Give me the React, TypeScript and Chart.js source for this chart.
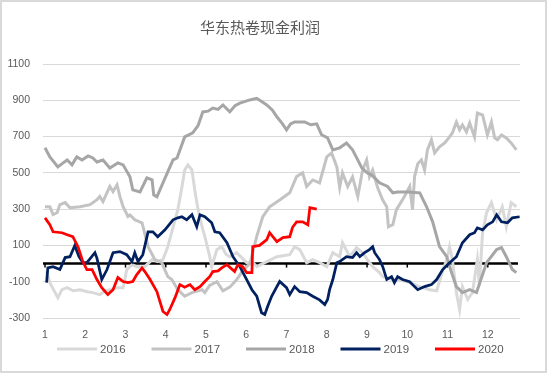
import React, { useEffect, useRef } from 'react';
import { Chart, registerables } from 'chart.js';

Chart.register(...registerables);

const TITLE = '华东热卷现金利润';
const monthTicks = [1, 2, 3, 4, 5, 6, 7, 8, 9, 10, 11, 12];
const seriesLabels = ['2016', '2017', '2018', '2019', '2020'];
const seriesColors = ['#d9d9d9', '#c3c3c3', '#a6a6a6', '#002060', '#ff0000'];
const seriesWidths = [3, 3, 3, 2.75, 2.75];

type P = [number, number];

const s2016: P[] = [
  [1.04, -43], [1.12, -105], [1.25, -160], [1.32, -188], [1.42, -144], [1.55, -133], [1.7, -150], [1.87, -144],
  [2.05, -155], [2.19, -160], [2.36, -171], [2.5, -150], [2.61, -144], [2.79, -133], [2.94, -133], [3.03, -34],
  [3.16, -6], [3.28, -17], [3.48, -17], [3.66, 22], [3.8, 10], [3.93, 22], [4.05, 93], [4.18, 200], [4.3, 297],
  [4.4, 420], [4.47, 516], [4.55, 544], [4.65, 516], [4.72, 406], [4.8, 300], [4.9, 203], [4.97, 150], [5.09, 40],
  [5.14, -17], [5.22, 40], [5.27, 77], [5.39, 93], [5.5, 50], [5.59, 38], [5.76, 60], [5.9, 30], [6.01, 5],
  [6.15, 10], [6.26, -17], [6.51, 11], [6.76, 38], [6.95, 45], [7.08, 49], [7.2, 93], [7.33, 77], [7.5, 5],
  [7.65, 22], [7.82, 5], [8.0, -17], [8.15, 60], [8.32, 38], [8.39, 115], [8.57, 38], [8.74, 88], [8.89, 60],
  [9.01, 22], [9.14, -17], [9.31, -50], [9.39, -72], [9.64, -88], [9.9, -95], [10.06, -105], [10.31, -127],
  [10.55, -144], [10.73, -150], [10.85, -60], [10.98, 22], [11.05, 93], [11.12, 22], [11.22, -160], [11.3, -253],
  [11.37, -127], [11.5, -198], [11.62, -160], [11.74, 22], [11.79, -120], [11.87, 170], [11.97, 280], [12.09, 336],
  [12.22, 241], [12.36, 313], [12.46, 203], [12.58, 336], [12.71, 313],
];

const s2017: P[] = [
  [1.0, 313], [1.12, 313], [1.2, 270], [1.3, 280], [1.37, 325], [1.5, 336], [1.62, 308], [1.87, 313], [2.12, 325],
  [2.29, 352], [2.36, 370], [2.44, 342], [2.61, 425], [2.69, 397], [2.79, 434], [2.86, 370], [2.94, 313], [3.06, 260],
  [3.11, 268], [3.23, 241], [3.41, 225], [3.56, 93], [3.73, 22], [3.9, 5], [4.05, -72], [4.15, -88], [4.3, -144],
  [4.47, -180], [4.65, -160], [4.9, -144], [4.97, -160], [5.09, -120], [5.27, -100], [5.42, -150], [5.59, -130],
  [5.76, -90], [5.91, -40], [6.09, 0], [6.26, 150], [6.41, 258], [6.58, 313], [6.83, 350], [7.08, 390], [7.25, 480],
  [7.4, 500], [7.5, 425], [7.65, 461], [7.82, 445], [8.0, 588], [8.12, 610], [8.25, 533], [8.32, 420], [8.39, 500],
  [8.52, 425], [8.64, 478], [8.77, 370], [8.89, 516], [8.99, 571], [9.06, 478], [9.14, 516], [9.26, 420], [9.39, 350],
  [9.49, 313], [9.53, 203], [9.64, 214], [9.73, 297], [9.93, 370], [10.06, 425], [10.13, 297], [10.18, 478],
  [10.26, 550], [10.35, 571], [10.43, 516], [10.5, 627], [10.6, 682], [10.68, 610], [10.8, 643], [10.93, 665],
  [11.05, 698], [11.12, 720], [11.22, 780], [11.3, 737], [11.37, 764], [11.47, 726], [11.55, 775], [11.67, 698],
  [11.74, 830], [11.87, 819], [11.99, 709], [12.09, 780], [12.17, 693], [12.24, 682], [12.34, 709], [12.46, 693],
  [12.58, 665], [12.71, 627],
];

const s2018: P[] = [
  [1.0, 638], [1.12, 588], [1.32, 533], [1.45, 555], [1.55, 571], [1.67, 544], [1.79, 588], [1.92, 571], [2.07, 593],
  [2.19, 582], [2.29, 560], [2.44, 571], [2.61, 527], [2.81, 555], [2.94, 544], [3.11, 478], [3.18, 406], [3.36, 395],
  [3.53, 472], [3.66, 461], [3.7, 379], [3.78, 368], [3.93, 445], [4.18, 571], [4.28, 582], [4.47, 698], [4.67, 720],
  [4.8, 760], [4.92, 836], [5.05, 840], [5.17, 857], [5.3, 850], [5.42, 874], [5.59, 836], [5.72, 870], [5.84, 884],
  [6.09, 902], [6.26, 911], [6.4, 890], [6.51, 874], [6.65, 845], [6.76, 809], [6.9, 770], [7.0, 737], [7.1, 770],
  [7.2, 781], [7.45, 781], [7.6, 765], [7.75, 770], [7.87, 710], [8.02, 693], [8.15, 627], [8.32, 638], [8.49, 665],
  [8.64, 627], [8.75, 580], [8.87, 527], [9.0, 500], [9.11, 489], [9.2, 470], [9.31, 445], [9.51, 425], [9.64, 390],
  [9.76, 395], [10.01, 395], [10.31, 390], [10.48, 313], [10.63, 230], [10.8, 93], [10.98, 38], [11.1, -50],
  [11.22, -127], [11.37, -160], [11.55, -144], [11.72, -160], [11.97, 5], [12.22, 77], [12.34, 88], [12.46, 38],
  [12.61, -33], [12.71, -50],
];

const s2019: P[] = [
  [1.04, -105], [1.07, -24], [1.2, -17], [1.37, -33], [1.5, 33], [1.62, 38], [1.74, 100], [1.84, 40], [1.94, 5],
  [2.04, 5], [2.24, 60], [2.29, 30], [2.41, -88], [2.54, -33], [2.69, 60], [2.86, 66], [3.03, 49], [3.16, 11],
  [3.23, 60], [3.31, 11], [3.43, 49], [3.56, 175], [3.68, 175], [3.8, 148], [3.98, 186], [4.18, 241], [4.3, 252],
  [4.4, 258], [4.52, 241], [4.65, 269], [4.77, 203], [4.85, 269], [4.97, 258], [5.14, 225], [5.22, 175], [5.34, 170],
  [5.52, 115], [5.67, 38], [5.84, -17], [6.01, -88], [6.14, -144], [6.26, -180], [6.38, -271], [6.46, -281],
  [6.53, -237], [6.63, -180], [6.76, -127], [6.83, -99], [7.0, -133], [7.08, -171], [7.2, -127], [7.33, -155],
  [7.5, -160], [7.65, -180], [7.82, -200], [7.95, -226], [8.02, -198], [8.07, -144], [8.15, -88], [8.25, 5],
  [8.32, 11], [8.49, 38], [8.64, 33], [8.74, 60], [8.82, 38], [8.94, 60], [9.06, 77], [9.14, 93], [9.19, 60],
  [9.31, 22], [9.39, -17], [9.49, -88], [9.61, -72], [9.68, -105], [9.76, -72], [9.88, -88], [10.06, -100],
  [10.18, -127], [10.26, -144], [10.43, -127], [10.6, -116], [10.73, -88], [10.88, -33], [11.05, 5], [11.22, 38],
  [11.37, 115], [11.55, 159], [11.67, 170], [11.74, 197], [11.87, 186], [11.99, 214], [12.12, 230], [12.22, 269],
  [12.34, 230], [12.49, 225], [12.61, 252], [12.79, 258],
];

const s2020: P[] = [
  [1.0, 252], [1.12, 214], [1.2, 175], [1.42, 170], [1.55, 159], [1.69, 148], [1.82, 93], [1.94, 11], [2.04, -33],
  [2.17, -33], [2.29, -88], [2.41, -133], [2.56, -171], [2.69, -144], [2.81, -77], [2.94, -99], [3.06, -105],
  [3.18, -99], [3.28, -61], [3.41, -24], [3.48, -44], [3.61, -88], [3.78, -155], [3.93, -264], [4.03, -281],
  [4.1, -253], [4.23, -188], [4.35, -116], [4.47, -130], [4.6, -116], [4.72, -144], [4.85, -127], [4.97, -99],
  [5.09, -72], [5.17, -44], [5.3, -40], [5.39, -24], [5.52, -6], [5.71, -44], [5.79, -6], [5.91, -17], [6.01, -50],
  [6.14, -50], [6.16, 93], [6.33, 100], [6.51, 132], [6.58, 170], [6.76, 121], [6.91, 143], [7.08, 148], [7.15, 200],
  [7.25, 230], [7.4, 230], [7.53, 214], [7.58, 308], [7.75, 300],
];

const allSeries = [s2016, s2017, s2018, s2019, s2020];

const TEXT_COLOR = '#595959';
const LEGEND_X0 = 57;
const LEGEND_STEP = 94.5;
const LEGEND_Y = 349;

export default function App() {
  const ref = useRef<HTMLCanvasElement>(null);

  useEffect(() => {
    document.body.style.margin = '0';
    const canvas = ref.current;
    if (!canvas) return;

    const datasets = allSeries.map((s, i) => ({
      label: seriesLabels[i],
      data: s.map(([x, y]) => ({ x, y })),
      borderColor: seriesColors[i],
      backgroundColor: seriesColors[i],
      borderWidth: seriesWidths[i],
      pointRadius: 0,
      pointHoverRadius: 0,
      tension: 0,
      fill: false,
      order: allSeries.length - i,
    }));

    const zeroLine = {
      id: 'zeroLine',
      beforeDatasetsDraw(chart: any) {
        const { ctx, chartArea, scales } = chart;
        const y0 = scales.y.getPixelForValue(0);
        ctx.save();
        ctx.strokeStyle = '#000000';
        ctx.lineWidth = 2.5;
        ctx.beginPath();
        ctx.moveTo(chartArea.left, y0);
        ctx.lineTo(chartArea.right - 2, y0);
        ctx.stroke();
        ctx.lineWidth = 1.5;
        monthTicks.forEach((m) => {
          const x = scales.x.getPixelForValue(m);
          ctx.beginPath();
          ctx.moveTo(x, y0);
          ctx.lineTo(x, y0 + 4);
          ctx.stroke();
        });
        ctx.restore();
      },
    };

    const bottomLegend = {
      id: 'bottomLegend',
      afterDraw(chart: any) {
        const { ctx } = chart;
        ctx.save();
        ctx.font = "11.5px 'Liberation Sans', Arial, sans-serif";
        ctx.textBaseline = 'middle';
        ctx.textAlign = 'left';
        chart.data.datasets.forEach((ds: any, i: number) => {
          const x = LEGEND_X0 + i * LEGEND_STEP;
          ctx.strokeStyle = ds.borderColor;
          ctx.lineWidth = 3;
          ctx.beginPath();
          ctx.moveTo(x, LEGEND_Y);
          ctx.lineTo(x + 40, LEGEND_Y);
          ctx.stroke();
          ctx.fillStyle = TEXT_COLOR;
          ctx.fillText(ds.label, x + 43, LEGEND_Y + 0.5);
        });
        ctx.restore();
      },
    };

    const tickFont = { family: "'Liberation Sans', Arial, sans-serif", size: 10.5 };

    const chart = new Chart(canvas, {
      type: 'line',
      data: { datasets } as any,
      options: {
        responsive: false,
        animation: false,
        devicePixelRatio: 1,
        layout: { padding: { left: 0, right: 30, top: 6, bottom: 0 } },
        plugins: {
          legend: { display: false },
          tooltip: { enabled: false },
          title: {
            display: true,
            text: TITLE,
            color: TEXT_COLOR,
            font: { family: "'Noto Sans CJK SC', sans-serif", size: 15, weight: 'normal', lineHeight: 1.2 },
            padding: { top: 12, bottom: 28 },
          },
        },
        scales: {
          x: {
            type: 'linear',
            min: 0.95,
            max: 12.8,
            grid: { display: false, drawTicks: false },
            border: { display: false },
            afterBuildTicks: (s: any) => {
              s.ticks = monthTicks.map((v) => ({ value: v }));
            },
            afterFit: (s: any) => {
              s.height = 56;
            },
            ticks: {
              padding: 11,
              color: TEXT_COLOR,
              font: tickFont,
              maxRotation: 0,
              autoSkip: false,
              callback: (v: any) => String(v),
            },
          },
          y: {
            min: -300,
            max: 1100,
            afterFit: (s: any) => {
              s.width = 43;
            },
            grid: { color: '#d9d9d9', lineWidth: 1, drawTicks: false },
            border: { display: false },
            ticks: {
              stepSize: 200,
              padding: 13,
              color: TEXT_COLOR,
              font: tickFont,
              callback: (v: any) => String(v),
            },
          },
        },
      } as any,
      plugins: [zeroLine, bottomLegend],
    });

    return () => chart.destroy();
  }, []);

  return (
    <div style={{ position: 'absolute', left: 0, top: 0, width: 550, height: 374, background: '#ffffff' }}>
      <div
        style={{
          position: 'absolute',
          left: 0,
          top: 0,
          width: 547,
          height: 373,
          border: '2px solid #d9d9d9',
          boxSizing: 'border-box',
        }}
      />
      <canvas
        ref={ref}
        width={550}
        height={374}
        style={{ position: 'absolute', left: 0, top: 0, width: 550, height: 374 }}
      />
    </div>
  );
}
